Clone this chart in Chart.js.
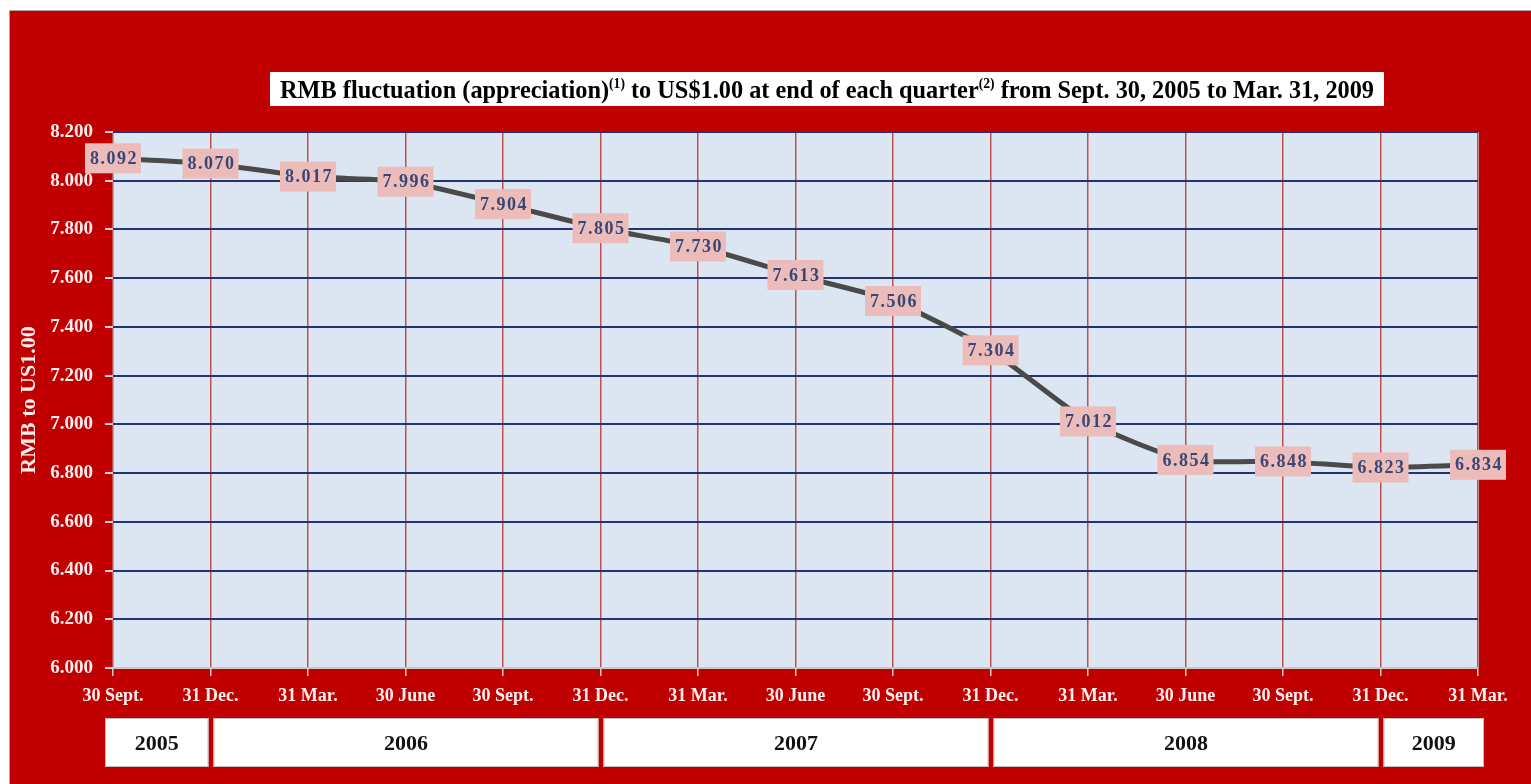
<!DOCTYPE html>
<html>
<head>
<meta charset="utf-8">
<script src="https://cdn.jsdelivr.net/npm/chart.js@4.4.1/dist/chart.umd.min.js"></script>
<style>
  html, body { margin: 0; padding: 0; background: #fff; }
  #wrap { width: 1531px; height: 784px; position: relative; }
</style>
</head>
<body>
<div id="wrap"><canvas id="rmb-chart" width="1531" height="784"></canvas></div>
<script>
const quarterLabels = ['30 Sept.', '31 Dec.', '31 Mar.', '30 June', '30 Sept.', '31 Dec.', '31 Mar.', '30 June',
                       '30 Sept.', '31 Dec.', '31 Mar.', '30 June', '30 Sept.', '31 Dec.', '31 Mar.'];
const rmbRates      = [8.092, 8.070, 8.017, 7.996, 7.904, 7.805, 7.730, 7.613,
                       7.506, 7.304, 7.012, 6.854, 6.848, 6.823, 6.834];
const yearLabels    = ['2005', '2006', '2007', '2008', '2009'];
const yearStart     = [0, 1, 5, 9, 13];
const yearEnd       = [1, 5, 9, 13, 14];
const yTicks        = [6.0, 8.2, 0.2];

const serif = '"Liberation Serif", "DejaVu Serif", serif';

// red frame + title box behind the chart
const framePlugin = {
    id: 'frame',
    beforeDraw(chart) {
        const c = chart.ctx;
        c.save();
        c.fillStyle = '#ffffff';
        c.fillRect(0, 0, chart.width, chart.height);
        c.fillStyle = '#c00000';
        c.fillRect(9, 10, chart.width - 9, chart.height - 10);
        c.strokeStyle = '#b0a0a0';
        c.lineWidth = 1;
        c.strokeRect(9.5, 10.5, chart.width, chart.height);

        // title
        c.fillStyle = '#ffffff';
        c.fillRect(270, 72, 1114, 34);
        const parts = [
            ['RMB fluctuation (appreciation)', false], ['(1)', true],
            [' to US$1.00 at end of each quarter', false], ['(2)', true],
            [' from Sept. 30, 2005 to Mar. 31, 2009', false],
        ];
        const big = 'bold 25px ' + serif, small = 'bold 14px ' + serif;
        let total = 0;
        for (const [t, sup] of parts) { c.font = sup ? small : big; total += c.measureText(t).width; }
        const sx = 1094 / total;
        c.translate(280, 98);
        c.scale(sx, 1);
        c.fillStyle = '#000';
        c.textBaseline = 'alphabetic';
        c.textAlign = 'left';
        let x = 0;
        for (const [t, sup] of parts) {
            c.font = sup ? small : big;
            c.fillText(t, x, sup ? -10 : 0);
            x += c.measureText(t).width;
        }
        c.restore();
    },
};

const plotBgPlugin = {
    id: 'plotBg',
    beforeDraw(chart) {
        const a = chart.chartArea;
        const c = chart.ctx;
        c.save();
        c.fillStyle = '#dce6f2';
        c.fillRect(a.left, a.top, a.right - a.left, a.bottom - a.top);
        c.strokeStyle = '#c8c8c8';
        c.lineWidth = 1;
        c.beginPath();
        c.moveTo(a.right + 0.5, a.top);
        c.lineTo(a.right + 0.5, a.bottom);
        c.stroke();
        c.restore();
    },
};

// pink value boxes + year boxes
const labelPlugin = {
    id: 'labels',
    afterDatasetsDraw(chart) {
        const c = chart.ctx;
        const meta = chart.getDatasetMeta(0);
        c.save();
        c.font = 'bold 18px ' + serif;
        c.letterSpacing = '1.5px';
        c.textAlign = 'center';
        c.textBaseline = 'middle';
        meta.data.forEach((pt, i) => {
            const txt = rmbRates[i].toFixed(3);
            const w = c.measureText(txt).width + 8;
            c.fillStyle = '#ebbcba';
            c.fillRect(pt.x - w / 2, pt.y - 15, w, 30);
            c.fillStyle = '#3a4776';
            c.fillText(txt, pt.x + 1, pt.y + 1);
        });

        const xs = chart.scales.x;
        c.font = 'bold 22px ' + serif;
        c.letterSpacing = '0px';
        yearLabels.forEach((yr, i) => {
            let x0 = xs.getPixelForValue(yearStart[i]) + 3;
            let x1 = xs.getPixelForValue(yearEnd[i]) - 2;
            if (i === 0) x0 -= 11;
            if (i === yearLabels.length - 1) x1 += 8;
            c.fillStyle = '#ffffff';
            c.fillRect(x0, 718, x1 - x0, 49);
            c.strokeStyle = '#bfbfbf';
            c.lineWidth = 1;
            c.strokeRect(x0 + 0.5, 718.5, x1 - x0 - 1, 48);
            c.fillStyle = '#111';
            c.fillText(yr, (x0 + x1) / 2, 744);
        });
        c.restore();
    },
};

new Chart(document.getElementById('rmb-chart'), {
    type: 'line',
    data: {
        labels: quarterLabels,
        datasets: [{
            data: rmbRates,
            borderColor: '#4a4a4a',
            borderWidth: 5,
            pointRadius: 0,
            tension: 0.2,
            fill: false,
        }],
    },
    options: {
        responsive: false,
        animation: false,
        layout: { padding: { top: 132, right: 53, bottom: 0, left: 0 } },
        plugins: {
            legend: { display: false },
            tooltip: { enabled: false },
        },
        scales: {
            x: {
                offset: false,
                afterFit: s => { s.height = 116; },
                grid: {
                    color: '#c0504d',
                    lineWidth: 1.5,
                    tickColor: '#d0d0d0',
                    tickLength: 8,
                },
                border: { display: false },
                ticks: {
                    color: '#fbeeee',
                    font: { family: serif, size: 18, weight: 'bold' },
                    maxRotation: 0,
                    autoSkip: false,
                    padding: 10,
                },
            },
            y: {
                min: yTicks[0],
                max: yTicks[1],
                afterFit: s => { s.width = 113; },
                grid: {
                    color: ctx => (ctx.tick && Math.abs(ctx.tick.value - 6) < 1e-6) ? '#c8c8c8' : '#26336e',
                    lineWidth: 2,
                    tickColor: '#d0d0d0',
                    tickLength: 8,
                },
                border: { display: false },
                ticks: {
                    stepSize: yTicks[2],
                    color: '#fbeeee',
                    font: { family: serif, size: 19, weight: 'bold' },
                    padding: 12,
                    callback: v => Number(v).toFixed(3),
                },
                title: {
                    display: true,
                    text: 'RMB to US1.00',
                    color: '#fbeeee',
                    font: { family: serif, size: 22, weight: 'bold' },
                    padding: { top: 16, bottom: 0 },
                },
            },
        },
    },
    plugins: [framePlugin, plotBgPlugin, labelPlugin],
});
</script>
</body>
</html>
